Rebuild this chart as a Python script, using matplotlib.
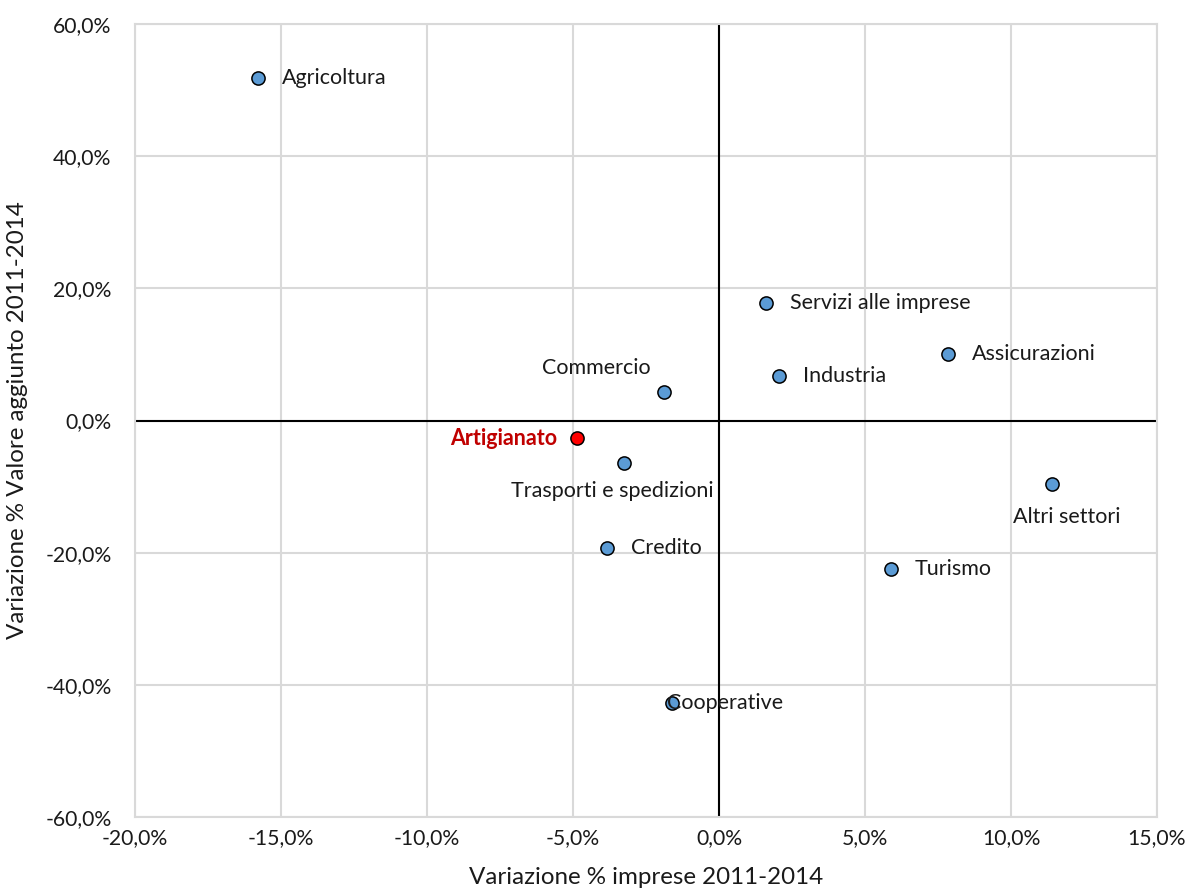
import matplotlib
matplotlib.use("Agg")
import matplotlib.pyplot as plt
from matplotlib.ticker import FuncFormatter, MultipleLocator

# %% Data (variazione % 2011-2014)

sectors = [
    "Agricoltura", "Servizi alle imprese", "Assicurazioni", "Industria",
    "Commercio", "Artigianato", "Trasporti e spedizioni", "Altri settori",
    "Credito", "Turismo", "Cooperative",
]
imprese = [-15.8, 1.6, 7.85, 2.05, -1.9, -4.85, -3.25, 11.4, -3.85, 5.9, -1.6]
valore_aggiunto = [51.9, 17.8, 10.1, 6.8, 4.3, -2.7, -6.5, -9.6, -19.3, -22.4, -42.8]

# label placement: offset in pixels from the point, alignment
label_pos = {
    "Agricoltura": (24, 0, "left"),
    "Servizi alle imprese": (24, 0, "left"),
    "Assicurazioni": (24, 0, "left"),
    "Industria": (24, 0, "left"),
    "Commercio": (-67, 24, "center"),
    "Artigianato": (-20, 0, "right"),
    "Trasporti e spedizioni": (-12, -28, "center"),
    "Altri settori": (15, -33, "center"),
    "Credito": (24, 0, "left"),
    "Turismo": (23, 0, "left"),
    "Cooperative": (-5, 0, "left"),
}

BLUE = "#5B9BD5"
RED = "#FF0000"
GRID = "#D9D9D9"
TXT = "#1a1a1a"

plt.rcParams["font.family"] = ["Lato", "DejaVu Sans"]

fig = plt.figure(figsize=(11.9, 8.94), dpi=100)
ax = fig.add_axes([135 / 1190, 77 / 894, 1022 / 1190, 793 / 894])

px = 0.72  # pixel -> points at 100 dpi

for name, x, y in zip(sectors, imprese, valore_aggiunto):
    is_art = name == "Artigianato"
    ax.scatter(x, y, s=(9.5) ** 2, color=RED if is_art else BLUE,
               edgecolor="black", linewidth=1.1, zorder=4)
    dx, dy, ha = label_pos[name]
    ax.annotate(
        name, (x, y), xytext=(dx * px, dy * px), textcoords="offset points",
        ha=ha, va="center", fontsize=15.5,
        color="#C00000" if is_art else TXT,
        fontweight="bold" if is_art else "normal", zorder=5,
    )

ax.set_xlim(-20, 15)
ax.set_ylim(-60, 60)
ax.xaxis.set_major_locator(MultipleLocator(5))
ax.yaxis.set_major_locator(MultipleLocator(20))

fmt = FuncFormatter(lambda v, _: f"{v:.1f}%".replace(".", ","))
ax.xaxis.set_major_formatter(fmt)
ax.yaxis.set_major_formatter(fmt)

ax.grid(True, color=GRID, linewidth=1.5, zorder=0)
ax.set_axisbelow(True)
for sp in ax.spines.values():
    sp.set_color(GRID)
    sp.set_linewidth(1.5)

ax.axhline(0, color="black", linewidth=1.5, zorder=2)
ax.axvline(0, color="black", linewidth=1.5, zorder=2)

ax.tick_params(length=0, labelsize=15.2, labelcolor=TXT)
ax.tick_params(axis="y", pad=17)
ax.tick_params(axis="x", pad=8)

fig.text(646 / 1190, 1 - 878 / 894, "Variazione % imprese 2011-2014",
         ha="center", va="center", fontsize=17.4, color=TXT)
fig.text(18 / 1190, 1 - 420 / 894, "Variazione % Valore aggiunto 2011-2014",
         ha="center", va="center", rotation=90, fontsize=17.4, color=TXT)

fig.savefig("out.png", dpi=100)
